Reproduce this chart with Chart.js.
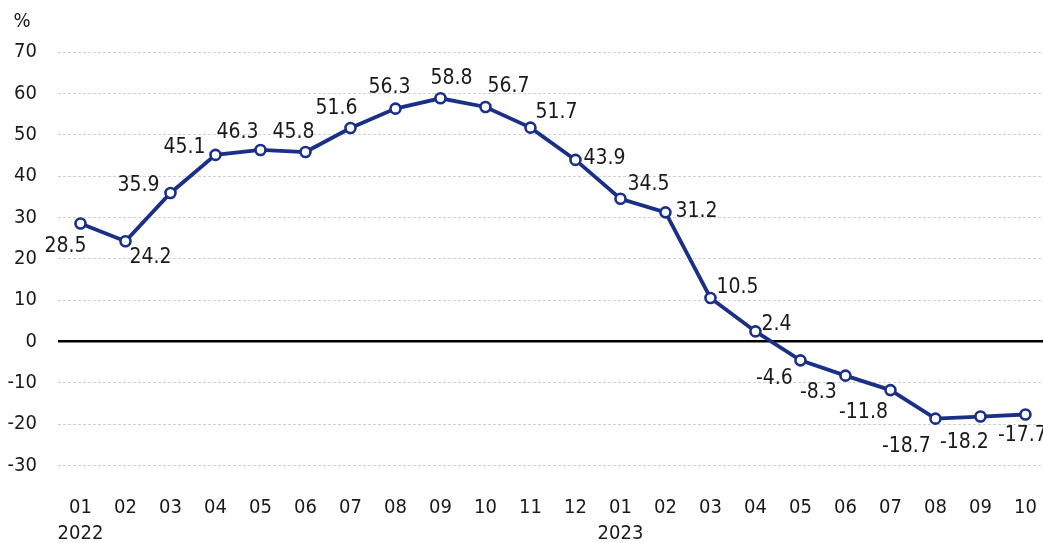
<!DOCTYPE html>
<html>
<head>
<meta charset="utf-8">
<script src="https://cdn.jsdelivr.net/npm/chart.js@4.4.1/dist/chart.umd.min.js"></script>
<style>
  html, body { margin: 0; padding: 0; background: #fff; overflow: hidden; }
  #wrap { width: 1043px; height: 543px; position: relative; }
  canvas { display: block; }
</style>
</head>
<body>
<div id="wrap"><canvas id="chart"></canvas></div>
<script>
// ---------------------------------------------
// Data
// ---------------------------------------------

const months = ["01", "02", "03", "04", "05", "06", "07", "08", "09", "10", "11", "12",
                "01", "02", "03", "04", "05", "06", "07", "08", "09", "10"];
const years = { 0: "2022", 12: "2023" };
const values = [28.5, 24.2, 35.9, 45.1, 46.3, 45.8, 51.6, 56.3, 58.8, 56.7, 51.7, 43.9,
                34.5, 31.2, 10.5, 2.4, -4.6, -8.3, -11.8, -18.7, -18.2, -17.7];
const yTicks = [70, 60, 50, 40, 30, 20, 10, 0, -10, -20, -30];
const unit = "%";

// ---------------------------------------------
// Style
// ---------------------------------------------

const NAVY = "#1a3088";
const TEXT = "#1a1a1a";
const FAMILY = "'DejaVu Sans Condensed', 'DejaVu Sans', sans-serif";
const TICK_FONT = { family: FAMILY, size: 20 };
const LABEL_FONT = "21px " + FAMILY;

// offset of each value label from its point (label centre)
const labelOffsets = [
  [-15, 23], [25, 16], [-32, -7], [-31, -7], [-23, -17], [-12, -19], [-14, -20], [-6, -21],
  [11, -20], [23, -20], [26, -15], [29, -1], [28, -14], [31, -1], [27, -10], [21, -7],
  [-26, 18], [-27, 17], [-27, 22], [-29, 28], [-16, 26], [-3, 21]
];

// ---------------------------------------------
// Plugins
// ---------------------------------------------

const valueLabels = {
  id: "valueLabels",
  afterDatasetsDraw(chart) {
    const ctx = chart.ctx;
    const meta = chart.getDatasetMeta(0);
    ctx.save();
    ctx.font = LABEL_FONT;
    ctx.fillStyle = TEXT;
    ctx.textAlign = "center";
    ctx.textBaseline = "middle";
    meta.data.forEach((pt, i) => {
      const [dx, dy] = labelOffsets[i];
      ctx.fillText(values[i].toFixed(1), pt.x + dx, pt.y + dy);
    });
    ctx.restore();
  }
};

const unitLabel = {
  id: "unitLabel",
  afterDraw(chart) {
    const ctx = chart.ctx;
    ctx.save();
    ctx.font = "20px " + FAMILY;
    ctx.fillStyle = TEXT;
    ctx.textAlign = "center";
    ctx.textBaseline = "middle";
    ctx.fillText(unit, 22, 22);
    ctx.restore();
  }
};

// ---------------------------------------------
// Chart
// ---------------------------------------------

new Chart(document.getElementById("chart"), {
  type: "line",
  data: {
    datasets: [{
      data: values.map((v, i) => ({ x: i, y: v })),
      borderColor: NAVY,
      borderWidth: 3.8,
      tension: 0,
      clip: false,
      pointRadius: 5,
      pointBorderWidth: 2.6,
      pointBackgroundColor: "#fff",
      pointBorderColor: NAVY
    }]
  },
  options: {
    responsive: true,
    maintainAspectRatio: false,
    animation: false,
    layout: { autoPadding: false, padding: { top: 52, left: 0, right: 0, bottom: 0 } },
    plugins: {
      legend: { display: false },
      tooltip: { enabled: false }
    },
    scales: {
      x: {
        type: "linear",
        min: -0.5,
        max: 21.39,
        afterBuildTicks: s => { s.ticks = months.map((m, i) => ({ value: i })); },
        afterFit: s => { s.height = 57; s.paddingLeft = 0; s.paddingRight = 0; },
        grid: { display: false, drawTicks: false },
        border: { display: false },
        ticks: {
          autoSkip: false,
          maxRotation: 0,
          padding: 9,
          color: TEXT,
          font: { ...TICK_FONT, lineHeight: 1.3 },
          callback: v => (years[v] ? [months[v], years[v]] : months[v])
        }
      },
      y: {
        min: -35,
        max: 70,
        afterBuildTicks: s => { s.ticks = yTicks.map(v => ({ value: v })); },
        afterFit: s => { s.width = 58; },
        grid: {
          drawTicks: false,
          color: c => (c.tick && c.tick.value === 0 ? "#000" : "#d2d2d2"),
          lineWidth: c => (c.tick && c.tick.value === 0 ? 2.5 : 1)
        },
        border: {
          display: false,
          dash: c => (c.tick && c.tick.value === 0 ? [] : [3, 2])
        },
        ticks: {
          padding: 21,
          color: TEXT,
          font: TICK_FONT
        }
      }
    }
  },
  plugins: [valueLabels, unitLabel]
});
</script>
</body>
</html>
